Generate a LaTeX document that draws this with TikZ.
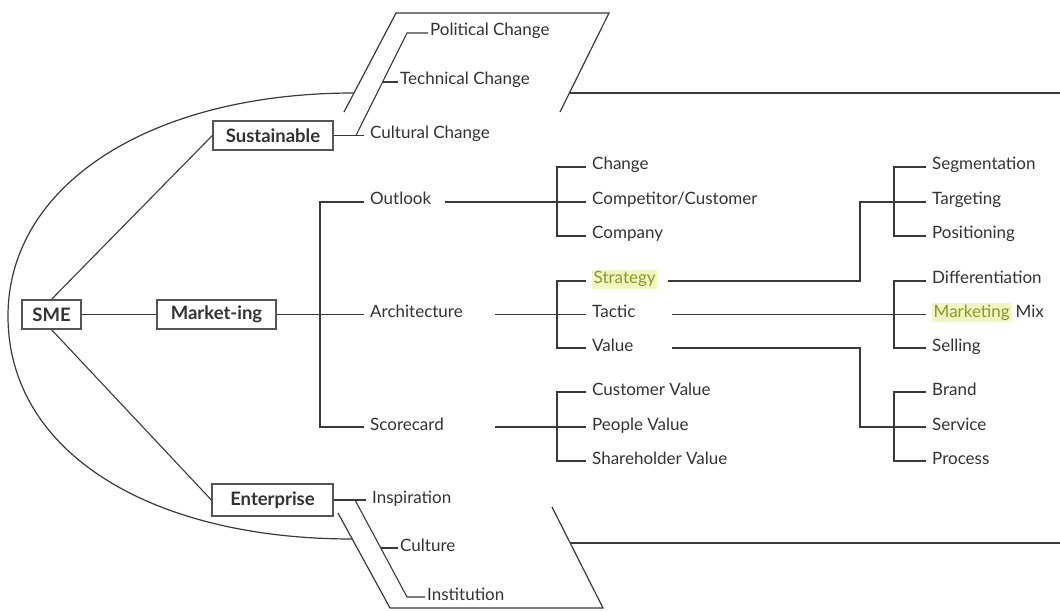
\documentclass[tikz,border=0pt]{standalone}
\usepackage{fontspec}
\setmainfont{Lato}
\definecolor{ink}{HTML}{3A3A3A}
\definecolor{txt}{HTML}{333333}
\definecolor{boxline}{HTML}{555555}
\definecolor{hlback}{HTML}{F1F6C2}
\definecolor{hltext}{HTML}{8A9A22}
\newcommand{\hlword}[1]{{\setlength{\fboxsep}{1.5pt}\colorbox{hlback}{\textcolor{hltext}{#1}}}}
\begin{document}
\begin{tikzpicture}[x=1pt,y=-1pt,
  conn/.style={draw=ink, line width=1.1pt},
  frame/.style={draw=ink, line width=1.2pt},
  labelbase/.style={anchor=west, inner ysep=0pt, text height=0.75em, text depth=0.15em,
    font=\fontsize{17}{20}\selectfont, text=txt},
  leaf/.style={labelbase, inner xsep=6pt},
  tag/.style={labelbase, inner xsep=2pt},
  boxed/.style={draw=boxline, line width=1.3pt, inner sep=0pt, minimum height=29pt,
    font=\bfseries\fontsize{18.5}{21}\selectfont, text=txt, fill=white}]

\useasboundingbox[fill=white] (0,0) rectangle (1060,612);

% ---- main boxes ----
\node[boxed, minimum width=59pt]  (sme)         at (51.5,314.5) {SME};
\node[boxed, minimum width=119pt] (marketing)   at (216.5,314.5) {Market-ing};
\node[boxed, minimum width=120pt] (sustainable) at (273,135.5) {Sustainable};
\node[boxed, minimum width=121pt, minimum height=32pt] (enterprise) at (272.5,500) {Enterprise};

% ---- outer envelope ----
\draw[frame] (354,93) .. controls (150,93) and (8,185) .. (8,316)
             .. controls (8,452) and (150,539) .. (352,539);
\draw[frame] (344,112) -- (396,13) -- (609,13) -- (560,112);
\draw[frame] (569.5,93) -- (1060,93);
\draw[frame] (338,513) -- (390,608) -- (603,608) -- (552,507);
\draw[frame] (570,543) -- (1060,543);

% ---- sustainable branch ----
\node[tag]  (political) at (428,33)    {Political Change};
\node[tag]  (technical) at (398,82)    {Technical Change};
\node[leaf] (cultural)  at (364,135.5) {Cultural Change};
\coordinate (ptop) at (407,33);
\coordinate (pmid) at (382.6,82);
\coordinate (pbot) at (356,135.5);
\draw[conn] (sustainable.east) -- (cultural.west);
\draw[conn] (political.west) -- (ptop) -- (pbot);
\draw[conn] (pmid) -- (technical.west);

% ---- enterprise branch ----
\node[leaf] (inspiration) at (366,500) {Inspiration};
\node[tag]  (culture)     at (398,548) {Culture};
\node[tag]  (institution) at (425,597) {Institution};
\coordinate (qtop) at (355,500);
\coordinate (qmid) at (380.7,548);
\coordinate (qbot) at (407,597);
\draw[conn] (enterprise.east) -- (inspiration.west);
\draw[conn] (qtop) -- (qbot) -- (institution.west);
\draw[conn] (qmid) -- (culture.west);

% ---- spokes from SME ----
\draw[conn] (sme) -- (marketing);
\draw[conn] (sme.north) -- (sustainable.west);
\draw[conn] (sme.south) -- (enterprise.west);

% ---- marketing tree, first level ----
\node[leaf] (outlook)      at (364,202) {Outlook};
\node[leaf] (architecture) at (364,314.5) {Architecture};
\node[leaf] (scorecard)    at (364,427) {Scorecard};
\coordinate (mk) at (320,314.5);
\draw[conn] (marketing.east) -- (architecture.west);
\draw[conn] (outlook.west) -| (mk) |- (scorecard.west);

% ---- second level ----
\node[leaf] (change)   at (586,167) {Change};
\node[leaf] (compcust) at (586,202) {Competitor/Customer};
\node[leaf] (company)  at (586,236) {Company};
\node[leaf] (strategy) at (586,281) {\hlword{Strategy}};
\node[leaf] (tactic)   at (586,314.5) {Tactic};
\node[leaf] (value)    at (586,348) {Value};
\node[leaf] (custval)  at (586,392) {Customer Value};
\node[leaf] (peopval)  at (586,427) {People Value};
\node[leaf] (shareval) at (586,461) {Shareholder Value};

\coordinate (o1) at (445,202);
\coordinate (a1) at (495,314.5);
\coordinate (c1) at (495,427);
\coordinate (b1) at (557,202);
\coordinate (b2) at (557,314.5);
\coordinate (b3) at (557,427);
\draw[conn] (o1) -- (compcust.west);
\draw[conn] (a1) -- (tactic.west);
\draw[conn] (c1) -- (peopval.west);
\draw[conn] (change.west) -| (b1) |- (company.west);
\draw[conn] (strategy.west) -| (b2) |- (value.west);
\draw[conn] (custval.west) -| (b3) |- (shareval.west);

% ---- third level ----
\node[leaf] (segment)  at (926,167) {Segmentation};
\node[leaf] (target)   at (926,202) {Targeting};
\node[leaf] (position) at (926,236) {Positioning};
\node[leaf] (differ)   at (926,281) {Differentiation};
\node[leaf] (mix)      at (926,314.5) {\hlword{Marketing} Mix};
\node[leaf] (selling)  at (926,348) {Selling};
\node[leaf] (brand)    at (926,392) {Brand};
\node[leaf] (service)  at (926,427) {Service};
\node[leaf] (process)  at (926,461) {Process};

\coordinate (s1) at (668,281);
\coordinate (t1) at (672,314.5);
\coordinate (v1) at (672,348);
\coordinate (k1) at (860,202);
\coordinate (k3) at (860,427);
\coordinate (j1) at (894,202);
\coordinate (j2) at (894,314.5);
\coordinate (j3) at (894,427);
\draw[conn] (s1) -| (k1) |- (target.west);
\draw[conn] (t1) -- (mix.west);
\draw[conn] (v1) -| (k3) |- (service.west);
\draw[conn] (segment.west) -| (j1) |- (position.west);
\draw[conn] (differ.west) -| (j2) |- (selling.west);
\draw[conn] (brand.west) -| (j3) |- (process.west);
\end{tikzpicture}
\end{document}
